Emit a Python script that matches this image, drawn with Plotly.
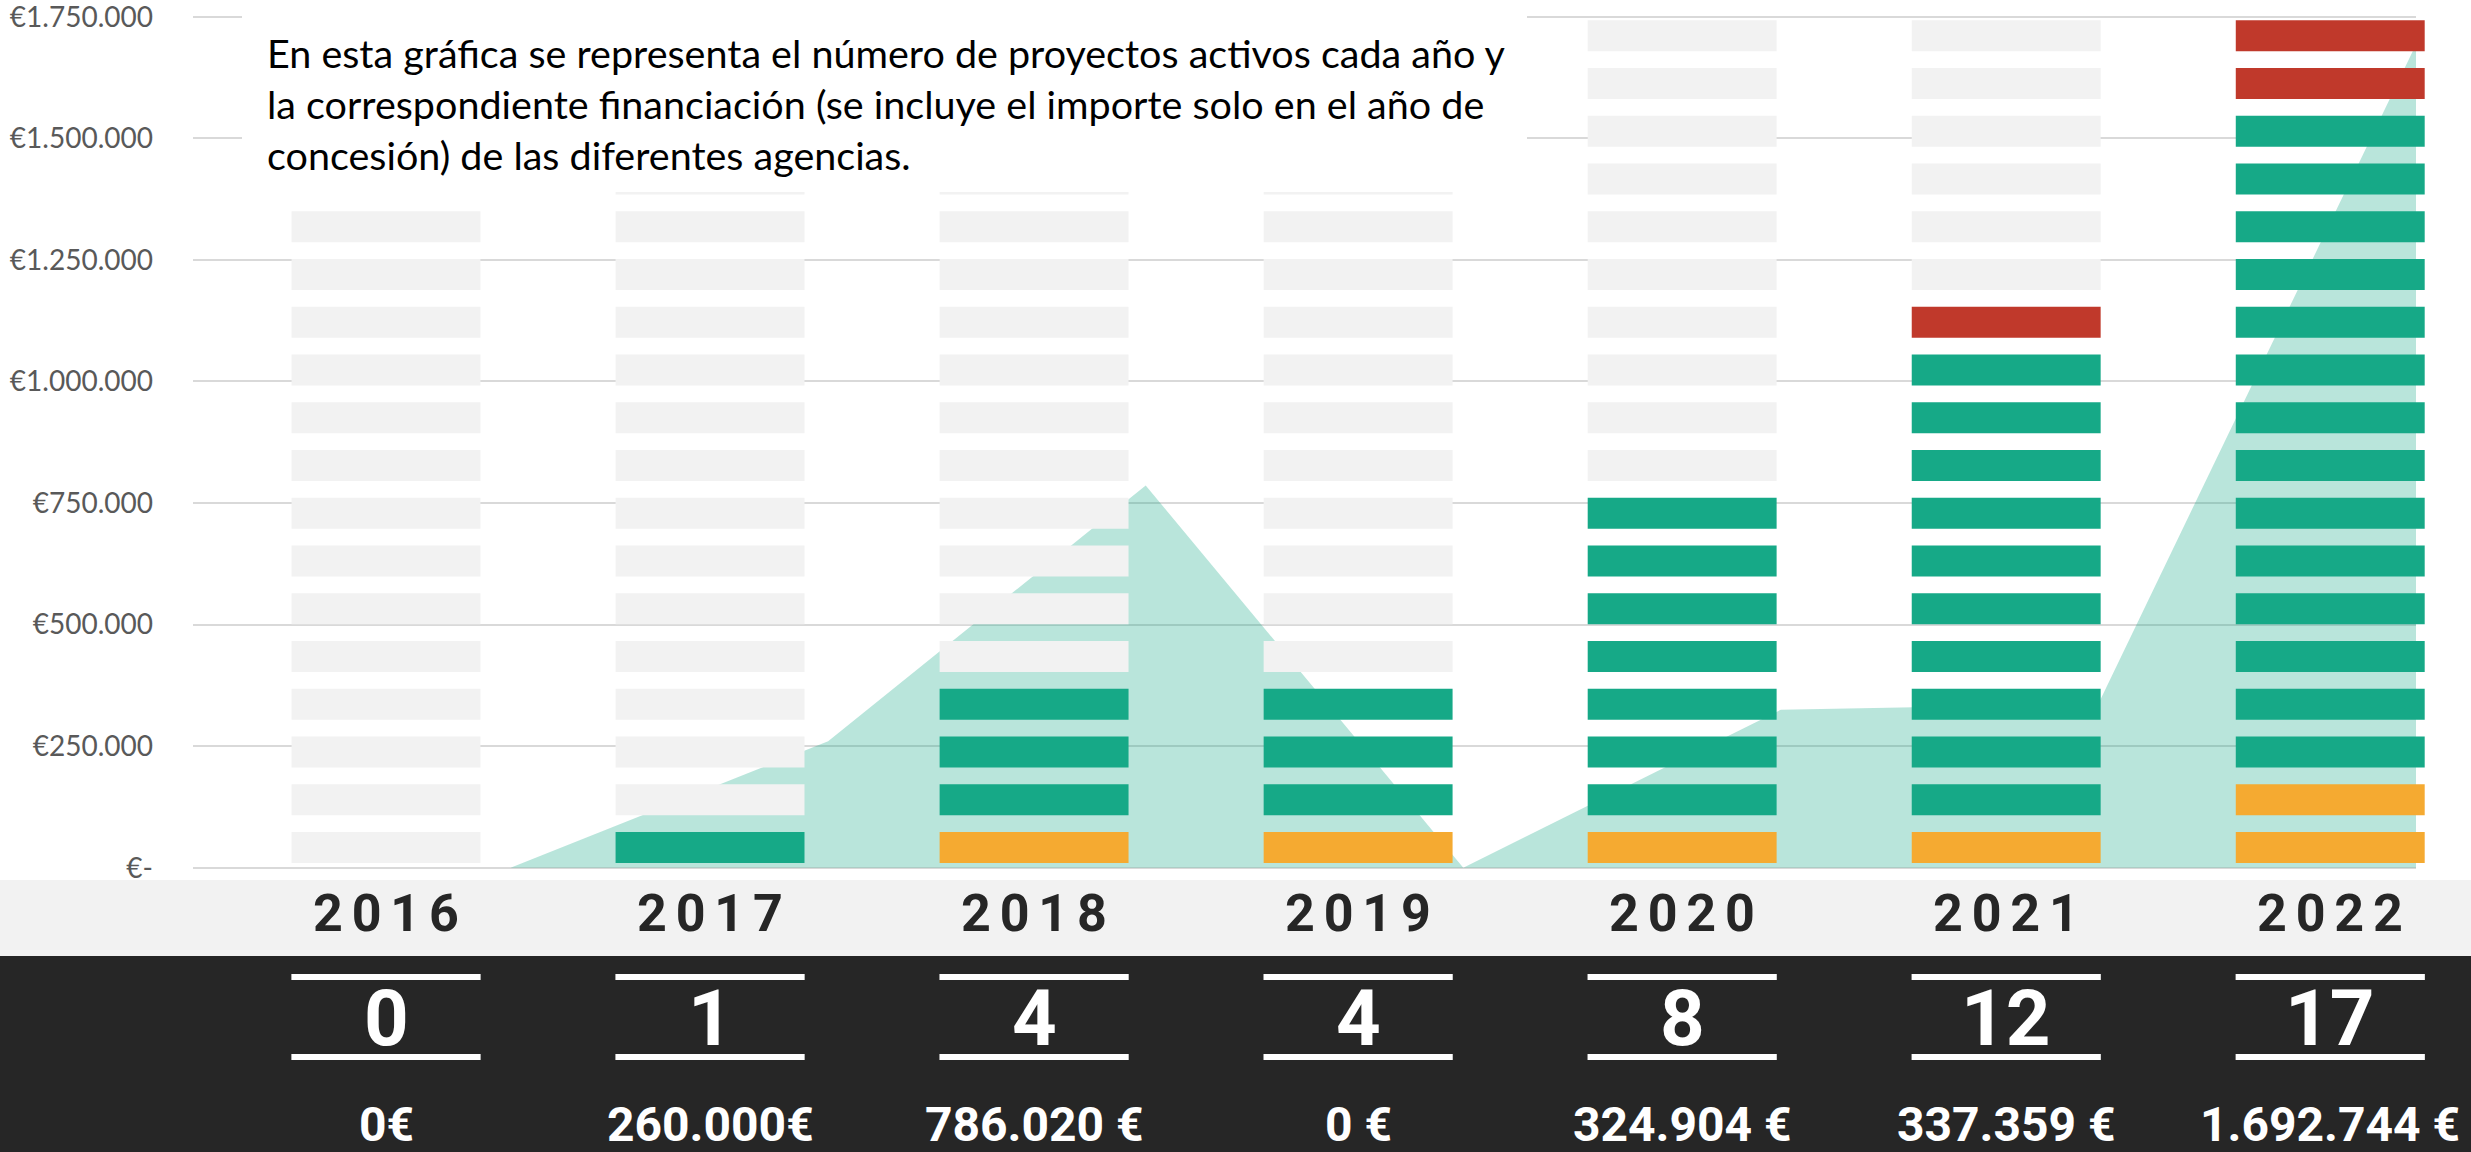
import plotly.graph_objects as go

W, H = 2471, 1152

years = [2016, 2017, 2018, 2019, 2020, 2021, 2022]
active_projects = [0, 1, 4, 4, 8, 12, 17]
funding = [0, 260000, 786020, 0, 324904, 337359, 1692744]
funding_labels = ['0€', '260.000€', '786.020 €', '0 €', '324.904 €', '337.359 €', '1.692.744 €']

# pictogram blocks per year, stacked from the bottom: orange, green, red, then grey
orange_blocks = [0, 0, 1, 1, 1, 1, 2]
green_blocks = [0, 1, 3, 3, 7, 10, 14]
red_blocks = [0, 0, 0, 0, 0, 1, 2]
column_blocks = [14, 15, 15, 15, 18, 18, 18]

y_ticks = [0, 250000, 500000, 750000, 1000000, 1250000, 1500000, 1750000]
y_tick_labels = ['€-', '€250.000', '€500.000', '€750.000', '€1.000.000',
                 '€1.250.000', '€1.500.000', '€1.750.000']

note_lines = [
    'En esta gráfica se representa el número de proyectos activos cada año y',
    'la correspondiente financiación (se incluye el importe solo en el año de',
    'concesión) de las diferentes agencias.',
]

GREEN = '#16a987'
ORANGE = '#f5aa31'
RED = '#c0392b'
GREY = '#f2f2f2'
DARK = '#262626'

PITCH = 47.75  # px between blocks


def py(px):
    # pixel row -> paper coordinate
    return 1 - px / H


# collect the block positions for every colour
blocks = {ORANGE: ([], []), GREEN: ([], []), RED: ([], []), GREY: ([], [])}
for i, year in enumerate(years):
    level = 0
    for color, counts in [(ORANGE, orange_blocks), (GREEN, green_blocks), (RED, red_blocks)]:
        for _ in range(counts[i]):
            blocks[color][0].append(year)
            blocks[color][1].append(level)
            level += 1
    while level < column_blocks[i]:
        blocks[GREY][0].append(year)
        blocks[GREY][1].append(level)
        level += 1

fig = go.Figure()

fig.add_trace(go.Scatter(
    x=years, y=funding, fill='tozeroy', mode='none',
    fillcolor='rgba(22,169,135,0.30)', hoverinfo='skip', showlegend=False,
    xaxis='x', yaxis='y'
))

for color in [GREY, ORANGE, GREEN, RED]:
    xs, bases = blocks[color]
    fig.add_trace(go.Bar(
        x=xs, y=[31 / PITCH] * len(xs), base=bases, width=0.583,
        marker=dict(color=color, line=dict(width=0)),
        hoverinfo='skip', showlegend=False, xaxis='x2', yaxis='y2'
    ))

# y scale: 0 at px 867.7, 1.75M at px 16.7
per_px = 1750000 / 851
fig.update_layout(
    width=W, height=H,
    margin=dict(l=0, r=0, t=0, b=0),
    paper_bgcolor='white', plot_bgcolor='rgba(0,0,0,0)',
    barmode='overlay',
    xaxis=dict(domain=[193 / W, 2416 / W], range=[2015, 2022], visible=False),
    yaxis=dict(
        range=[-(H - 867.7) * per_px, 867.7 * per_px],
        tickvals=y_ticks, ticktext=y_tick_labels,
        showgrid=True, gridcolor='#d9d9d9', gridwidth=1.5, zeroline=False,
        ticks='', ticklabelstandoff=39, automargin=False, ticklabeloverflow='allow',
        tickfont=dict(family='Lato', size=28, color='#595959'),
    ),
    xaxis2=dict(domain=[193 / W, 1.0], anchor='y2',
                range=[2016 - 193 / 324.04, 2016 + 2085 / 324.04], visible=False),
    yaxis2=dict(domain=[0, 1], anchor='x2',
                range=[(863 - H) / PITCH, 863 / PITCH], visible=False),
)

shapes = [
    dict(type='rect', xref='paper', yref='paper', x0=0, x1=1, y0=py(956), y1=py(880),
         fillcolor=GREY, line=dict(width=0), layer='below'),
    dict(type='rect', xref='paper', yref='paper', x0=0, x1=1, y0=0, y1=py(956),
         fillcolor=DARK, line=dict(width=0), layer='below'),
    dict(type='rect', xref='paper', yref='paper', x0=242 / W, x1=1527 / W, y0=py(192), y1=1,
         fillcolor='white', line=dict(width=0), layer='above'),
]
for year in years:
    for row in [977, 1057]:
        shapes.append(dict(type='line', xref='x2', yref='paper', x0=year - 0.292, x1=year + 0.292,
                           y0=py(row), y1=py(row), line=dict(color='white', width=6)))
fig.update_layout(shapes=shapes)

for year, count, label in zip(years, active_projects, funding_labels):
    fig.add_annotation(x=year, y=py(913), xref='x2', yref='paper', showarrow=False,
                       xanchor='center', yanchor='middle',
                       text='\u2006'.join(str(year)),
                       font=dict(family='Roboto', size=52, color=DARK, weight='bold'))
    fig.add_annotation(x=year, y=py(1018), xref='x2', yref='paper', showarrow=False,
                       xanchor='center', yanchor='middle',
                       text=str(count),
                       font=dict(family='Roboto', size=78, color='white', weight='bold'))
    fig.add_annotation(x=year, y=py(1124), xref='x2', yref='paper', showarrow=False,
                       xanchor='center', yanchor='middle',
                       text=label,
                       font=dict(family='Roboto', size=48, color='white', weight='bold'))

for i, line in enumerate(note_lines):
    fig.add_annotation(x=265 / W, y=py(53 + 50.5 * i), xref='paper', yref='paper',
                       xanchor='left', yanchor='middle', showarrow=False, text=line,
                       font=dict(family='Lato', size=39.5, color='black'))

fig.write_html('out.html', config={'displayModeBar': False},
               post_script="document.body.style.margin='0';")
